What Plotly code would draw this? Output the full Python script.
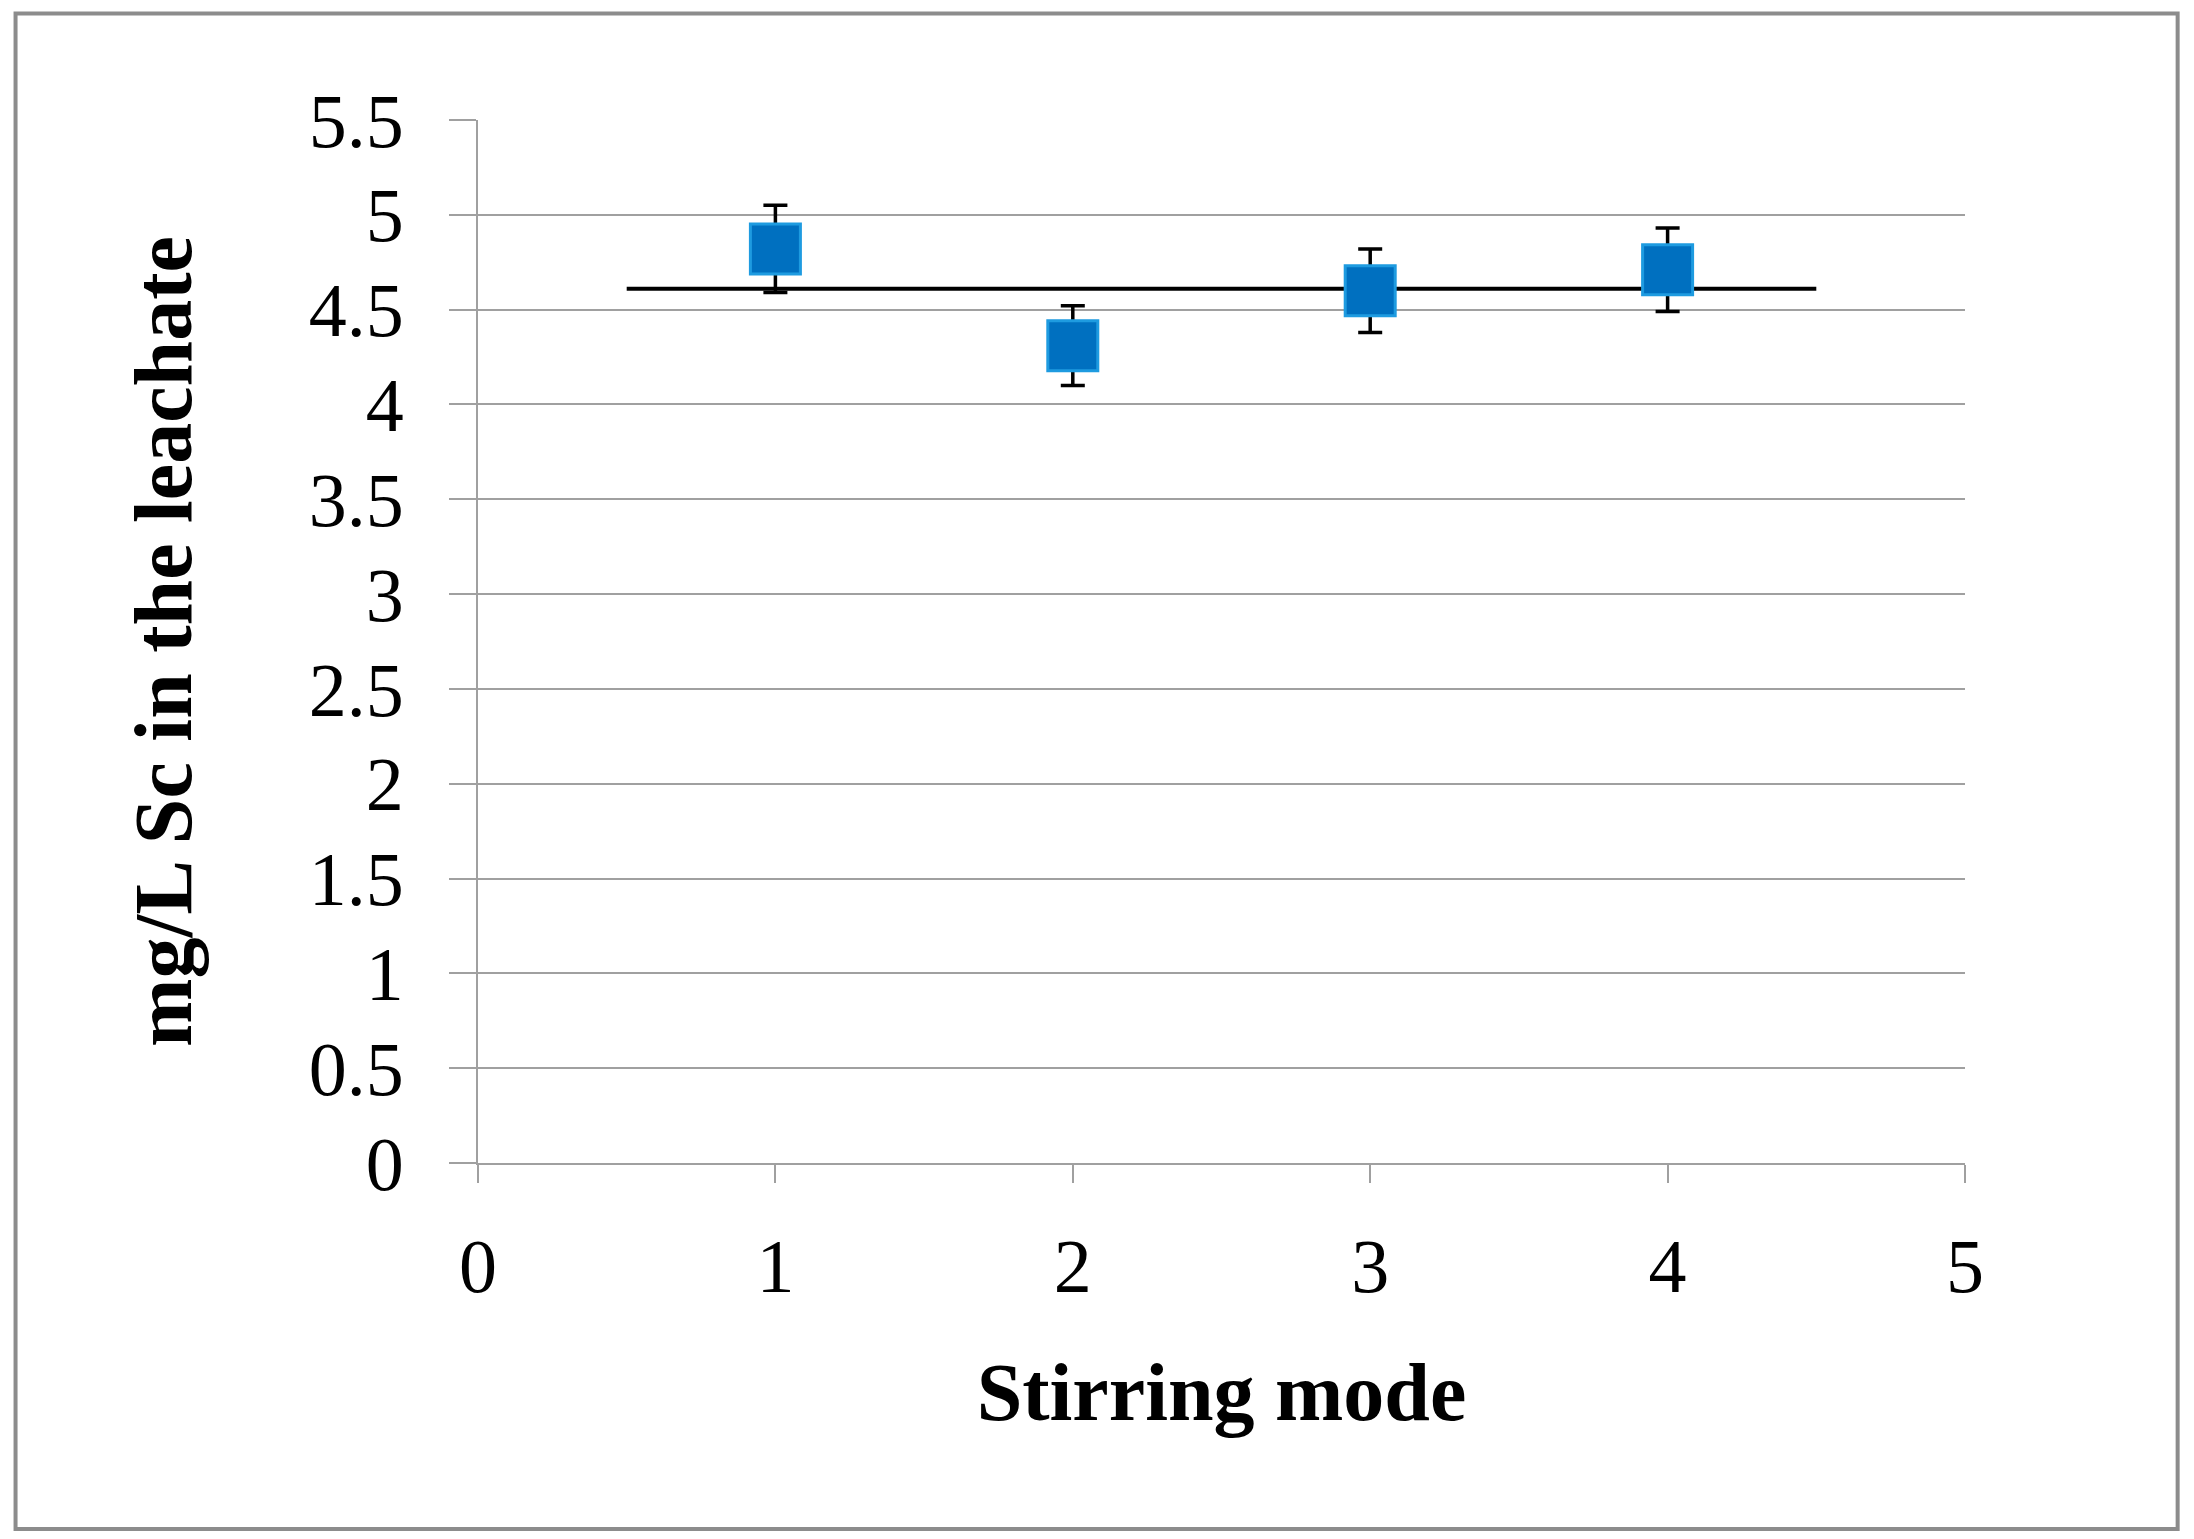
import plotly.graph_objects as go

modes = [1, 2, 3, 4]
sc_values = [4.82, 4.31, 4.60, 4.71]
sc_errors = [0.23, 0.21, 0.22, 0.22]
mean_x = [0.5, 4.5]
mean_y = [4.61, 4.61]

font = "Liberation Serif"
fig = go.Figure()
fig.add_trace(go.Scatter(x=mean_x, y=mean_y, mode="lines",
                         line=dict(color="black", width=4), showlegend=False))
fig.add_trace(go.Scatter(x=modes, y=sc_values, mode="markers",
                         marker=dict(symbol="square", size=50, color="#0070C0",
                                     line=dict(color="#1E9BE0", width=3)),
                         error_y=dict(type="data", array=sc_errors, color="black",
                                      thickness=3.5, width=12),
                         showlegend=False))

fig.update_layout(
    width=2194, height=1539, paper_bgcolor="white", plot_bgcolor="white",
    margin=dict(l=470, r=237, t=112, b=384),
    font=dict(family=font, size=76, color="black"),
    xaxis=dict(range=[0, 5], dtick=1, showgrid=False, showline=True,
               linecolor="#A0A0A0", linewidth=2, ticks="outside", ticklen=18,
               tickcolor="#A0A0A0", tickwidth=2, zeroline=False,
               ticklabelstandoff=18,
               title=dict(text="<b>Stirring mode</b>", standoff=55,
                          font=dict(size=82))),
    yaxis=dict(range=[0, 5.5], dtick=0.5, showgrid=True, gridcolor="#A0A0A0",
               gridwidth=2, showline=True, linecolor="#A0A0A0", linewidth=2,
               ticks="outside", ticklen=27, tickcolor="#A0A0A0", tickwidth=2,
               zeroline=False, ticklabelstandoff=30,
               title=dict(text="<b>mg/L Sc in the leachate</b>", standoff=90,
                          font=dict(size=82))),
    shapes=[dict(type="rect", xref="paper", yref="paper",
                 x0=-0.311, x1=1.143, y0=-0.351, y1=1.102,
                 line=dict(color="#8C8C8C", width=4))],
)
fig.write_html("out.html")
